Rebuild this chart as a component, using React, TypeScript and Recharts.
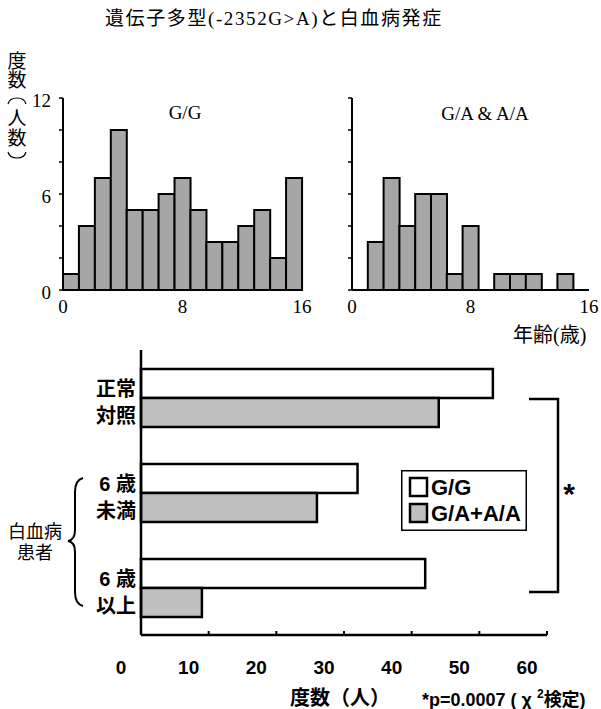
import React from 'react';
import { BarChart, Bar, XAxis, YAxis, Legend } from 'recharts';

// 年齢別の度数（15 本のビンで 0〜16 歳）
const ggCounts = [1, 4, 7, 10, 5, 5, 6, 7, 5, 3, 3, 4, 5, 2, 7];
const gaCounts = [0, 3, 7, 4, 6, 6, 1, 4, 0, 1, 1, 1, 0, 1, 0];
const ageTicks = [0, 8, 16];
const countTicks = [0, 2, 4, 6, 8, 10, 12];
const countLabels = [0, 6, 12];

// 下の横棒グラフ
const groups = [
  ['正常', '対照'],
  ['6 歳', '未満'],
  ['6 歳', '以上'],
];
const seriesNames = ['G/G', 'G/A+A/A'];
const ggTotals = [52, 32, 42];
const gaTotals = [44, 26, 9];
const freqTicks = [0, 10, 20, 30, 40, 50, 60];

const SERIF = '"Liberation Serif", "Noto Sans CJK JP", serif';
const SANS = '"Liberation Sans", "Noto Sans CJK JP", sans-serif';

const binWidth = 16 / ggCounts.length;
const histData = (counts: number[]) =>
  counts.map((c, i) => ({ bin: String(i), start: i * binWidth, count: c }));

const barData = groups.map((g, i) => ({
  name: g.join('|'),
  gg: ggTotals[i],
  ga: gaTotals[i],
}));

type HistProps = {
  counts: number[];
  left: number;
  width: number;
  margin: { top: number; right: number; left: number; bottom: number };
  showLabels: boolean;
};

const Histogram = ({ counts, left, width, margin, showLabels }: HistProps) => (
  <div style={{ position: 'absolute', left, top: 80 }}>
    <BarChart width={width} height={240} data={histData(counts)} margin={margin} barCategoryGap={0}>
      <XAxis xAxisId="cat" dataKey="bin" type="category" hide />
      <XAxis
        xAxisId="age"
        dataKey="start"
        type="number"
        domain={[0, 16]}
        ticks={ageTicks}
        allowDataOverflow
        height={30}
        tickLine={false}
        tickSize={0}
        tickMargin={10}
        axisLine={{ stroke: '#000', strokeWidth: 2 }}
        tick={{ fill: '#000', fontSize: 19, fontFamily: SERIF }}
      />
      <YAxis
        type="number"
        domain={[0, 12]}
        ticks={countTicks}
        width={40}
        tickSize={4}
        tickMargin={8}
        tickLine={{ stroke: '#000', strokeWidth: 1.5 }}
        axisLine={{ stroke: '#000', strokeWidth: 2 }}
        tickFormatter={(v: number) => (showLabels && countLabels.includes(v) ? String(v) : '')}
        tick={{ fill: '#000', fontSize: 19, fontFamily: SERIF, dy: 2 }}
      />
      <Bar
        xAxisId="cat"
        dataKey="count"
        fill="#a6a6a6"
        stroke="#000"
        strokeWidth={2}
        isAnimationActive={false}
      />
    </BarChart>
  </div>
);

const GroupTick = (props: any) => {
  const { x, y, payload } = props;
  const lines = String(payload.value).split('|');
  return (
    <text textAnchor="end" fontSize={20} fontWeight="bold" fontFamily={SANS} fill="#000">
      <tspan x={x} y={y - 9} dominantBaseline="central">{lines[0]}</tspan>
      <tspan x={x} y={y + 18} dominantBaseline="central">{lines[1]}</tspan>
    </text>
  );
};

const FreqTick = (props: any) => {
  const { x, y, payload } = props;
  return (
    <text x={x - 20} y={y} dy="0.71em" textAnchor="middle" fontSize={19} fontWeight="bold" fontFamily={SANS} fill="#000">
      {payload.value}
    </text>
  );
};

const LegendBox = (props: any) => {
  const items = [...(props.payload || [])].sort(
    (a: any, b: any) => seriesNames.indexOf(a.value) - seriesNames.indexOf(b.value)
  );
  return (
    <svg width={126} height={61}>
      <rect x={0.75} y={0.75} width={124.5} height={59.5} fill="#fff" stroke="#000" strokeWidth={1.5} />
      {items.map((it: any, i: number) => (
        <g key={it.value}>
          <rect x={9} y={8 + i * 26} width={17} height={18} fill={it.color} stroke="#000" strokeWidth={2.5} />
          <text x={30} y={17 + i * 26} dominantBaseline="central" fontSize={22} fontWeight="bold" fontFamily={SANS} fill="#000">
            {it.value}
          </text>
        </g>
      ))}
    </svg>
  );
};

const yLabelChars: [string, number][] = [
  ['度', 61],
  ['数', 80],
  ['人', 118],
  ['数', 138],
];

export default function App() {
  return (
    <div style={{ position: 'absolute', left: 0, top: 0, width: 601, height: 709, background: '#fff' }}>
      <Histogram counts={ggCounts} left={0} width={320} margin={{ top: 18, right: 18, left: 23, bottom: 0 }} showLabels />
      <Histogram counts={gaCounts} left={300} width={301} margin={{ top: 18, right: 12, left: 12, bottom: 0 }} showLabels={false} />

      <div style={{ position: 'absolute', left: 0, top: 340 }}>
        <BarChart
          width={601}
          height={345}
          data={barData}
          layout="vertical"
          margin={{ top: 10, right: 54, left: 0, bottom: 15 }}
          barCategoryGap="20%"
          barGap={0}
        >
          <XAxis
            type="number"
            domain={[0, 60]}
            ticks={freqTicks}
            height={35}
            tickSize={-4}
            tickMargin={30}
            tickLine={{ stroke: '#000', strokeWidth: 2 }}
            axisLine={{ stroke: '#000', strokeWidth: 2.5 }}
            tick={<FreqTick />}
          />
          <YAxis
            type="category"
            dataKey="name"
            width={141}
            tickLine={false}
            tickSize={0}
            tickMargin={5}
            axisLine={{ stroke: '#000', strokeWidth: 2.5 }}
            tick={<GroupTick />}
          />
          <Legend
            layout="vertical"
            align="center"
            verticalAlign="middle"
            content={<LegendBox />}
            wrapperStyle={{ position: 'absolute', left: 401, top: 130, width: 126, height: 61 }}
          />
          <Bar dataKey="gg" name={seriesNames[0]} fill="#ffffff" stroke="#000" strokeWidth={2.5} isAnimationActive={false} />
          <Bar dataKey="ga" name={seriesNames[1]} fill="#c0c0c0" stroke="#000" strokeWidth={2.5} isAnimationActive={false} />
        </BarChart>
      </div>

      <svg width={601} height={709} style={{ position: 'absolute', left: 0, top: 0, pointerEvents: 'none' }}>
        <text x={105} y={18.5} dominantBaseline="central" fontSize={19} letterSpacing={1.6} fontFamily={SERIF} fill="#000">
          遺伝子多型(-2352G&gt;A)と白血病発症
        </text>

        {/* 縦書きの軸ラベル「度数（人数）」 */}
        {yLabelChars.map(([ch, y], i) => (
          <text key={i} x={17} y={y} textAnchor="middle" dominantBaseline="central" fontSize={19} fontFamily={SERIF} fill="#000">
            {ch}
          </text>
        ))}
        <path d="M8,104 C10,96 24,96 26,104" fill="none" stroke="#000" strokeWidth={1.2} />
        <path d="M8,152 C10,160 24,160 26,152" fill="none" stroke="#000" strokeWidth={1.2} />

        <text x={185} y={112} textAnchor="middle" dominantBaseline="central" fontSize={19} fontFamily={SERIF} fill="#000">G/G</text>
        <text x={485} y={113} textAnchor="middle" dominantBaseline="central" fontSize={19} fontFamily={SERIF} fill="#000" style={{ whiteSpace: 'pre' }}>G/A &amp; A/A</text>
        <text x={513} y={335} dominantBaseline="central" fontSize={20} fontFamily={SERIF} fill="#000">年齢(歳)</text>

        <text x={35} y={532} textAnchor="middle" dominantBaseline="central" fontSize={18} fontFamily={SANS} fill="#000">白血病</text>
        <text x={35} y={553} textAnchor="middle" dominantBaseline="central" fontSize={18} fontFamily={SANS} fill="#000">患者</text>
        <path
          d="M83,478 Q75,480 75,492 L75,530 Q75,540 68,541 Q75,542 75,552 L75,592 Q75,604 83,606"
          fill="none"
          stroke="#000"
          strokeWidth={2}
        />

        <polyline points="529,399 558,399 558,592 529,592" fill="none" stroke="#000" strokeWidth={2.5} />
        <text x={569} y={504} textAnchor="middle" fontSize={30} fontWeight="bold" fontFamily={SANS} fill="#000">*</text>

        <text x={290} y={698} dominantBaseline="central" fontSize={20} fontWeight="bold" fontFamily={SANS} fill="#000">度数（人）</text>
        <text x={422} y={700} dominantBaseline="central" fontSize={18} fontWeight="bold" fontFamily={SANS} fill="#000" style={{ whiteSpace: 'pre' }}>
          *p=0.0007 ( χ <tspan fontSize={12} dy={-6}>2</tspan><tspan dy={6}>検定)</tspan>
        </text>
      </svg>
    </div>
  );
}
